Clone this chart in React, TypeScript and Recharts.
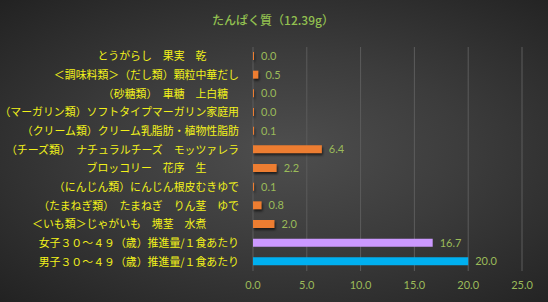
import React from 'react';
import { BarChart, Bar, XAxis, YAxis, CartesianGrid, Cell, LabelList } from 'recharts';

const foods = [
  'とうがらし　果実　乾　　　',
  '＜調味料類＞（だし類）顆粒中華だし',
  '（砂糖類）　車糖　上白糖　',
  '（マーガリン類）ソフトタイプマーガリン家庭用',
  '（クリーム類）クリーム乳脂肪・植物性脂肪',
  '（チーズ類）　ナチュラルチーズ　モッツァレラ',
  'ブロッコリー　花序　生　　　',
  '（にんじん類）にんじん根皮むきゆで',
  '（たまねぎ類）　たまねぎ　りん茎　ゆで',
  '＜いも類＞じゃがいも　塊茎　水煮　　　',
  '女子３０～４９（歳）推進量/１食あたり',
  '男子３０～４９（歳）推進量/１食あたり',
];

const protein = [0.0, 0.5, 0.0, 0.0, 0.1, 6.4, 2.2, 0.1, 0.8, 2.0, 16.7, 20.0];

const barColors = [
  '#ed7d31', '#ed7d31', '#ed7d31', '#ed7d31', '#ed7d31', '#ed7d31',
  '#ed7d31', '#ed7d31', '#ed7d31', '#ed7d31', '#cc99ff', '#00b0f0',
];

const xTicks = [0, 5, 10, 15, 20, 25];

const chartData = foods.map((name, i) => ({ name, value: protein[i] }));

// plain svg text so recharts doesn't wrap the long names
const FoodTick = (props: any) => {
  const { x, y, payload } = props;
  return (
    <text
      x={x}
      y={y}
      dy="0.36em"
      textAnchor="end"
      fill="#f2f21a"
      fontSize={10.9}
      fontFamily='"Noto Sans CJK JP"'
      style={{ whiteSpace: 'pre' }}
    >
      {payload.value}
    </text>
  );
};

const ValueLabel = (props: any) => {
  const { x, y, width, height, value } = props;
  return (
    <text
      x={Number(x) + Number(width) + 7}
      y={Number(y) + Number(height) / 2}
      dy="0.36em"
      fill="#9bbb59"
      fontSize={11}
      fontFamily="Lato"
    >
      {Number(value).toFixed(1)}
    </text>
  );
};

export default function App() {
  return (
    <div
      style={{
        position: 'absolute',
        left: 0,
        top: 0,
        width: 548,
        height: 302,
        background: 'radial-gradient(ellipse at 52% 50%, #4e4e4e 0%, #3c3c3c 45%, #222222 100%)',
      }}
    >
      <div
        style={{
          position: 'absolute',
          left: 0,
          top: 11,
          width: 546,
          textAlign: 'center',
          fontFamily: '"Noto Sans CJK JP"',
          fontSize: 12,
          fontWeight: 500,
          color: '#92c050',
        }}
      >
        たんぱく質（12.39g）
      </div>
      <BarChart
        width={548}
        height={302}
        data={chartData}
        layout="vertical"
        margin={{ top: 47, right: 26, left: 0, bottom: 0 }}
      >
        <CartesianGrid horizontal={false} stroke="#5c5c5c" strokeWidth={1} />
        <XAxis
          type="number"
          domain={[0, 25]}
          ticks={xTicks}
          height={31}
          axisLine={false}
          tickLine={false}
          tickMargin={4}
          tickFormatter={(v: number) => v.toFixed(1)}
          tick={{ fill: '#9bbb59', fontSize: 11, fontFamily: 'Lato' }}
        />
        <YAxis
          type="category"
          dataKey="name"
          width={253}
          axisLine={false}
          tickLine={false}
          tickMargin={8}
          interval={0}
          tick={<FoodTick />}
        />
        <Bar dataKey="value" barSize={8} minPointSize={1} isAnimationActive={false}>
          {chartData.map((d, i) => (
            <Cell
              key={d.name}
              fill={barColors[i]}
              style={{ filter: i < 10 ? 'drop-shadow(1px 2px 1px rgba(0,0,0,0.6))' : undefined }}
            />
          ))}
          <LabelList dataKey="value" content={<ValueLabel />} />
        </Bar>
        {/* zero line drawn over the bars like the original */}
        <YAxis
          yAxisId="line"
          type="category"
          dataKey="name"
          width={0}
          hide={false}
          orientation="left"
          axisLine={{ stroke: '#c0c0c0' }}
          tickLine={false}
          tick={false}
        />
      </BarChart>
    </div>
  );
}
